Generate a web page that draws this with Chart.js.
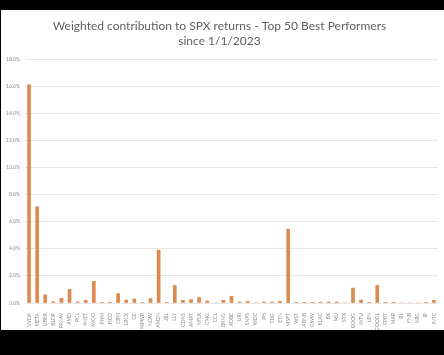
<!DOCTYPE html>
<html>
<head>
<meta charset="utf-8">
<script src="https://cdn.jsdelivr.net/npm/chart.js@4"></script>
<style>
  html, body { margin: 0; padding: 0; background: #000; }
  body { width: 444px; height: 355px; position: relative; overflow: hidden; }
  .sheet { position: absolute; left: 1px; top: 10px; width: 443px; height: 320px; background: #fff; }
</style>
</head>
<body>
<div class="sheet"><canvas id="chart" width="443" height="320"></canvas></div>
<script>
const TICKERS = ['NVDA','META','UBER','BLDR','PANW','AMD','RCL','ANET','AVGO','PHM','FICO','CRM','LRCX','GE','MPWR',
    'NOW','AMZN','JBL','LLY','CDNS','AMAT','NFLX','CMG','CCL','BKNG','ADBE','URI','SNPS','WDC','PH','TDG','ETN',
    'MSFT','WST','ABNB','GWW','KLAC','BX','MU','STX','GOOG','INTU','LEN','GOOGL','CPRT','MAR','RL','FNB','NRG','IR','INTC'];

const CONTRIB = [16.1, 7.1, 0.6, 0.1, 0.35, 1.0, 0.08, 0.2, 1.6, 0.03, 0.05, 0.7, 0.22, 0.3, 0.05,
    0.33, 3.9, 0.03, 1.3, 0.2, 0.25, 0.4, 0.15, 0, 0.2, 0.5, 0.07, 0.12, 0, 0.07, 0.07, 0.12,
    5.45, 0.02, 0.05, 0.03, 0.06, 0.08, 0.08, 0, 1.1, 0.22, 0.02, 1.3, 0.03, 0.05, 0, 0, 0, 0.03, 0.2];

const TITLE_LINES = ['Weighted contribution to SPX returns - Top 50 Best Performers', 'since 1/1/2023'];

const BAR_COLOR = '#dc8a4f';
const TEXT_GREY = '#8a8a8a';

new Chart(document.getElementById('chart'), {
    type: 'bar',
    data: {
        labels: TICKERS,
        datasets: [{ data: CONTRIB, backgroundColor: BAR_COLOR, barThickness: 3 }],
    },
    options: {
        responsive: false,
        animation: false,
        layout: { padding: { left: 0, right: 6, top: 0, bottom: 0 } },
        plugins: {
            legend: { display: false },
            tooltip: { enabled: false },
            title: {
                display: true,
                text: TITLE_LINES,
                color: '#5f5f5f',
                font: { family: 'Lato', size: 12, weight: 'normal', lineHeight: 1.25 },
                padding: { top: 9, bottom: 10 },
            },
        },
        scales: {
            x: {
                grid: { display: false },
                border: { display: false },
                ticks: {
                    color: TEXT_GREY, autoSkip: false, maxRotation: 90, minRotation: 90,
                    font: { family: 'Lato', size: 5 }, padding: 2,
                },
                afterFit: s => { s.height = 27; },
            },
            y: {
                min: 0, max: 18,
                grid: { color: '#e6e6e6', drawTicks: false },
                border: { display: false },
                ticks: {
                    stepSize: 2, color: TEXT_GREY, padding: 5,
                    font: { family: 'Lato', size: 5 },
                    callback: v => v.toFixed(1) + '%',
                },
                afterFit: s => { s.width = 24; },
            },
        },
    },
});
</script>
</body>
</html>
